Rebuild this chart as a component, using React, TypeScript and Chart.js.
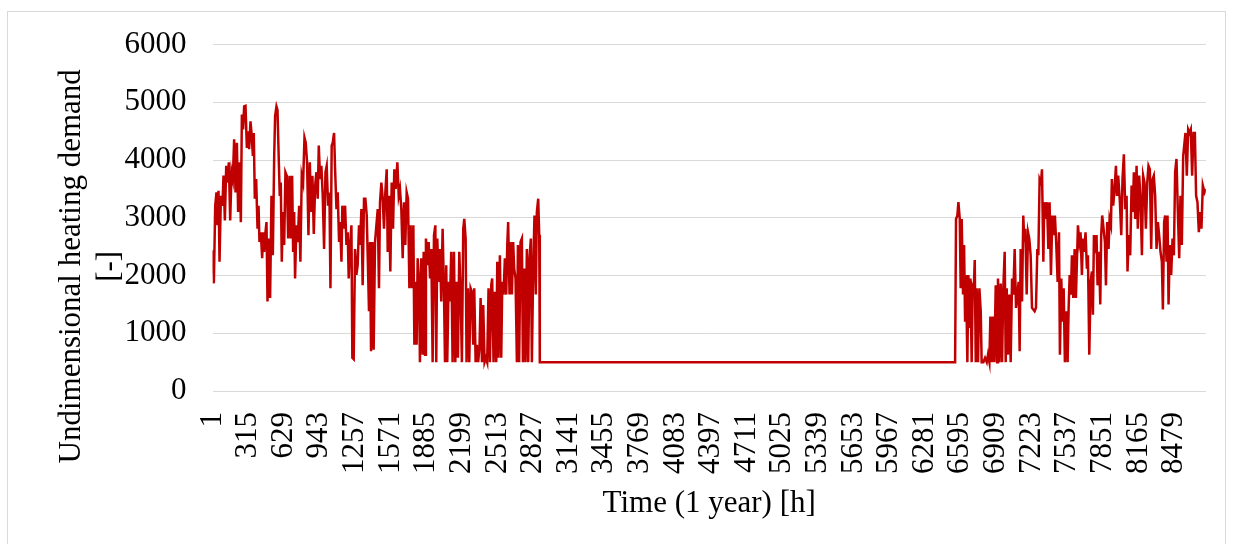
import React, { useEffect, useRef } from 'react';
import { Chart, registerables } from 'chart.js';

Chart.register(...registerables);

// Hour of the year (x) for each traced point of the series
const hours: number[] = [
  1, 13, 25, 36, 45, 54, 63, 75, 89, 98, 110, 122, 133, 145, 157, 169, 180, 192, 204, 216,
  227, 239, 251, 260, 271, 280, 292, 304, 316, 324, 336, 345, 357, 365, 374, 386, 398, 407, 415, 427,
  439, 448, 456, 468, 477, 486, 497, 509, 521, 533, 545, 553, 565, 574, 586, 594, 603, 612, 621, 633,
  644, 656, 668, 680, 691, 703,
  712, 721, 729, 741, 753, 765, 776, 788, 800, 812, 823, 835, 847, 859, 870, 882, 894, 906, 917, 929,
  938, 950, 961, 973, 985, 997, 1008, 1020, 1032, 1041, 1052, 1061, 1073, 1082, 1094, 1105, 1117, 1126, 1138, 1146,
  1158, 1170, 1182, 1193, 1202, 1214, 1226, 1234, 1246, 1258, 1270, 1281, 1293, 1302, 1314, 1325, 1337, 1349, 1361, 1370,
  1381, 1390, 1399, 1411, 1422, 1434, 1446, 1458, 1469,
  1478, 1490, 1502, 1513, 1525, 1537, 1546, 1557, 1569, 1581, 1593, 1604, 1616, 1631, 1643, 1654, 1666, 1678, 1690, 1701,
  1713, 1725, 1737, 1748, 1760, 1772, 1781, 1792, 1801, 1810, 1822, 1830, 1842, 1854, 1863, 1875, 1883, 1895, 1907, 1919,
  1930, 1942, 1954, 1966, 1974, 1983, 1995, 2007, 2018, 2030, 2042, 2051, 2062, 2071, 2083, 2095, 2106, 2118, 2130, 2142,
  2153, 2165, 2177, 2189, 2200, 2212,
  2221, 2233, 2241, 2253, 2265, 2277, 2288, 2300, 2309, 2321, 2332, 2344, 2356, 2365, 2377, 2388, 2400, 2412, 2423, 2435,
  2447, 2459, 2467, 2479, 2491, 2503, 2512, 2523, 2535, 2547, 2556, 2567, 2579, 2591, 2600, 2608, 2620, 2629, 2641, 2652,
  2661, 2673, 2685, 2694, 2705, 2717, 2729, 2738, 2749, 2761, 2773, 2785, 2796, 2808, 2817, 2829, 2840, 2852, 2861, 2873,
  2882, 2887, 6549,
  6557, 6569, 6578, 6590, 6598, 6607, 6619, 6628, 6637, 6645, 6657, 6666, 6675, 6684, 6695, 6704, 6713, 6722, 6731, 6739,
  6751, 6763, 6775, 6783, 6798, 6813, 6828, 6839, 6851, 6860, 6872, 6883, 6895, 6907, 6919, 6927, 6939, 6951, 6963, 6974,
  6986, 6995, 7004, 7015, 7027, 7039, 7051, 7062, 7074, 7086, 7098, 7109, 7118, 7127, 7139, 7150, 7159, 7168, 7180, 7192,
  7203, 7215, 7227,
  7250, 7262, 7274, 7283, 7294, 7306, 7315, 7327, 7335, 7347, 7359, 7371, 7382, 7394, 7406, 7418, 7429, 7441, 7453, 7465,
  7473, 7485, 7497, 7506, 7517, 7529, 7541, 7550, 7559, 7570, 7579, 7591, 7603, 7614, 7623, 7632, 7644, 7655, 7667, 7676,
  7688, 7699, 7711, 7720, 7732, 7744, 7755, 7764, 7773, 7785, 7796, 7805, 7817, 7829, 7837, 7846, 7858, 7870, 7879, 7890,
  7902, 7911, 7923, 7931, 7943, 7955, 7967, 7976, 7987,
  8002, 8014, 8025, 8037, 8049, 8061, 8069, 8081, 8093, 8105, 8116, 8125, 8137, 8149, 8160, 8172, 8184, 8196, 8207, 8219,
  8231, 8243, 8254, 8266, 8278, 8290, 8301, 8313, 8325, 8337, 8348, 8360, 8372, 8381, 8392, 8401, 8413, 8422, 8431, 8442,
  8454, 8466, 8478, 8489, 8501, 8513, 8525, 8536, 8548, 8560, 8569, 8580, 8592, 8604, 8616, 8627, 8639, 8651, 8663, 8674,
  8686, 8698, 8710, 8721, 8733, 8748, 8760,
];

// Undimensional heating demand [-] at those hours
const demand: number[] = [
  2440, 1865, 3210, 3440, 2870, 3470, 2240, 3380, 3210, 3730, 2955, 3900, 3610, 3960, 2955, 3790, 3670, 4360, 3440, 4300,
  3100, 3960, 2925, 4790, 4530, 4930, 4940, 4210, 4500, 4190, 4670, 4470, 4070, 4470, 3330, 3670, 2810, 3210, 2580, 2750,
  2300, 2750, 2410, 2750, 2925, 1550, 2640, 1610, 3380, 2350, 4070, 4760, 4930, 4870, 3960, 3380, 3610, 2240, 3100, 2530,
  3790, 3730, 2640, 3730, 2640, 3730,
  2410, 3100, 1950, 2870, 2580, 3210, 2240, 3730, 3610, 4390, 4300, 3960, 2700, 3960, 3100, 3730, 2720, 3560, 3790, 3330,
  4250, 3670, 3900, 3380, 2460, 3790, 3900, 3210, 3440, 1780, 4250, 4300, 4470, 3840, 3150, 3440, 2580, 2925, 2240, 3210,
  2810, 3210, 2530, 2750, 1950, 2530, 2870, 575, 550, 2460, 2010, 2180, 2870, 2530, 3150, 1830, 3330, 3330, 3040, 2300,
  1380, 2580, 690, 2580, 715, 2580, 2870, 3150, 1780,
  3270, 3610, 3330, 2810, 3440, 3840, 2410, 3380, 2070, 3610, 2810, 3840, 3500, 3960, 3380, 3500, 3150, 2300, 3270, 2530,
  3440, 3330, 1780, 2870, 1780, 2870, 800, 1890, 800, 2300, 1890, 500, 2300, 630, 2410, 630, 2640, 2180, 2580, 1950,
  2460, 500, 2700, 2870, 500, 2640, 1890, 2460, 1550, 2810, 1720, 500, 2180, 500, 1890, 1550, 2410, 500, 2410, 500,
  1890, 575, 2410, 1670, 500, 2810,
  2980, 2640, 500, 1780, 500, 1780, 1720, 800, 1780, 500, 800, 500, 800, 1610, 500, 1490, 500, 575, 500, 1780,
  500, 1830, 1950, 500, 1720, 500, 2240, 575, 2350, 575, 1890, 1670, 2300, 1670, 2530, 2925, 1670, 2580, 1670, 2580,
  2120, 1950, 500, 2530, 500, 2580, 2640, 500, 2120, 500, 2460, 500, 2300, 2640, 500, 2120, 3040, 1670, 3100, 3330,
  2700, 500, 500,
  2980, 3040, 3270, 2980, 1780, 2980, 1670, 2530, 1200, 2010, 500, 2010, 1090, 1950, 500, 1780, 1720, 2270, 500, 1780,
  500, 1780, 1380, 500, 500, 575, 500, 630, 500, 1290, 500, 1290, 500, 1830, 500, 1950, 500, 1860, 500, 1780,
  2410, 500, 1780, 630, 1670, 500, 1950, 1670, 2460, 1440, 1670, 1890, 690, 2460, 1550, 3040, 2580, 2810, 1670, 2750,
  2640, 2350, 1440,
  1380, 1440, 2460, 2350, 3670, 3610, 3840, 2240, 3270, 2980, 3270, 2460, 3270, 2010, 3040, 2700, 3040, 2530, 1890, 2750,
  630, 1950, 1200, 1780, 500, 1380, 500, 1440, 2010, 1670, 2350, 1610, 2460, 1610, 2240, 2870, 2580, 2750, 2010, 2640,
  2410, 2750, 2120, 2350, 630, 1890, 2070, 1320, 2700, 2530, 2700, 1830, 2410, 1500, 2700, 3040, 2810, 2580, 1830, 2925,
  2460, 2980, 2870, 3670, 3210, 3500, 3900, 3380, 3730,
  3270, 2700, 3670, 4100, 3150, 3380, 2070, 2700, 2350, 3560, 3100, 3790, 2980, 3900, 2810, 3730, 3330, 2350, 3730, 3610,
  2810, 3610, 3900, 3840, 2460, 3670, 3730, 3380, 2460, 2925, 2700, 2410, 2240, 1410, 2925, 3040, 2240, 3040, 1500, 2530,
  2010, 2640, 2350, 3790, 4020, 3100, 2300, 3380, 2530, 4070, 4250, 4470, 3730, 4530, 4470, 4530, 3730, 4470, 4470, 3380,
  3270, 2750, 3100, 2810, 3560, 3440, 3500,
];

const xTickHours: number[] = [
  1, 315, 629, 943, 1257, 1571, 1885, 2199, 2513, 2827, 3141, 3455, 3769, 4083,
  4397, 4711, 5025, 5339, 5653, 5967, 6281, 6595, 6909, 7223, 7537, 7851, 8165, 8479,
];
const yTickValues: number[] = [0, 1000, 2000, 3000, 4000, 5000, 6000];
const xAxisTitle = 'Time (1 year) [h]';
const yAxisTitleLines: string[] = ['Undimensional heating demand', '[-]'];

const FONT_FAMILY = '"Liberation Serif", "Times New Roman", serif';
const FONT_SIZE = 31;
const LINE_COLOR = '#c00000';
const GRID_COLOR = '#d9d9d9';

export default function App() {
  const canvasRef = useRef<HTMLCanvasElement>(null);

  useEffect(() => {
    const canvas = canvasRef.current;
    if (!canvas) return;

    const yTitlePlugin = {
      id: 'yTitleTwoLines',
      afterDraw(chart: any) {
        const { ctx, chartArea } = chart;
        const cy = (chartArea.top + chartArea.bottom) / 2 + 48.5;
        const xs = [chartArea.left - 140.5, chartArea.left - 103];
        ctx.save();
        ctx.font = `${FONT_SIZE}px ${FONT_FAMILY}`;
        ctx.fillStyle = '#000000';
        ctx.textAlign = 'center';
        ctx.textBaseline = 'middle';
        yAxisTitleLines.forEach((line, i) => {
          ctx.save();
          ctx.translate(xs[i], cy);
          ctx.rotate(-Math.PI / 2);
          ctx.fillText(line, 0, 0);
          ctx.restore();
        });
        ctx.restore();
      },
    };

    const chart = new Chart(canvas, {
      type: 'line',
      data: {
        datasets: [
          {
            data: hours.map((h, i) => ({ x: h, y: demand[i] })),
            borderColor: LINE_COLOR,
            backgroundColor: LINE_COLOR,
            borderWidth: 2.5,
            pointRadius: 0,
            tension: 0,
            fill: false,
          },
        ],
      },
      options: {
        responsive: false,
        animation: false,
        events: [],
        layout: { padding: { left: 0, right: 25, top: 42.7, bottom: 0 } },
        plugins: {
          legend: { display: false },
          tooltip: { enabled: false },
          title: { display: false },
        },
        scales: {
          x: {
            type: 'linear',
            min: 1,
            max: 8760,
            afterBuildTicks: (scale: any) => {
              scale.ticks = xTickHours.map((v) => ({ value: v }));
            },
            afterFit: (scale: any) => {
              scale.height = 153;
            },
            grid: { display: false, drawTicks: false },
            border: { display: false },
            ticks: {
              autoSkip: false,
              minRotation: 90,
              maxRotation: 90,
              padding: 21,
              color: '#000000',
              font: { family: FONT_FAMILY, size: FONT_SIZE },
              callback: (v: any) => String(v),
            },
            title: {
              display: true,
              text: xAxisTitle,
              color: '#000000',
              font: { family: FONT_FAMILY, size: FONT_SIZE },
              padding: { top: 0, bottom: 22 },
            },
          },
          y: {
            type: 'linear',
            min: 0,
            max: 6000,
            afterBuildTicks: (scale: any) => {
              scale.ticks = yTickValues.map((v) => ({ value: v }));
            },
            afterFit: (scale: any) => {
              scale.width = 212.5;
            },
            grid: { color: GRID_COLOR, lineWidth: 1, drawTicks: false },
            border: { display: false },
            ticks: {
              padding: 26,
              color: '#000000',
              font: { family: FONT_FAMILY, size: FONT_SIZE },
              callback: (v: any) => String(v),
            },
          },
        },
      },
      plugins: [yTitlePlugin],
    });

    return () => chart.destroy();
  }, []);

  return (
    <div
      style={{
        position: 'fixed',
        left: 0,
        top: 0,
        width: 1233,
        height: 544,
        background: '#ffffff',
        overflow: 'hidden',
      }}
    >
      <canvas ref={canvasRef} width={1233} height={544} style={{ display: 'block' }} />
      <div
        style={{
          position: 'absolute',
          left: 7,
          top: 11,
          width: 1219,
          height: 545,
          border: '1px solid #d9d9d9',
          boxSizing: 'border-box',
          pointerEvents: 'none',
        }}
      />
    </div>
  );
}
